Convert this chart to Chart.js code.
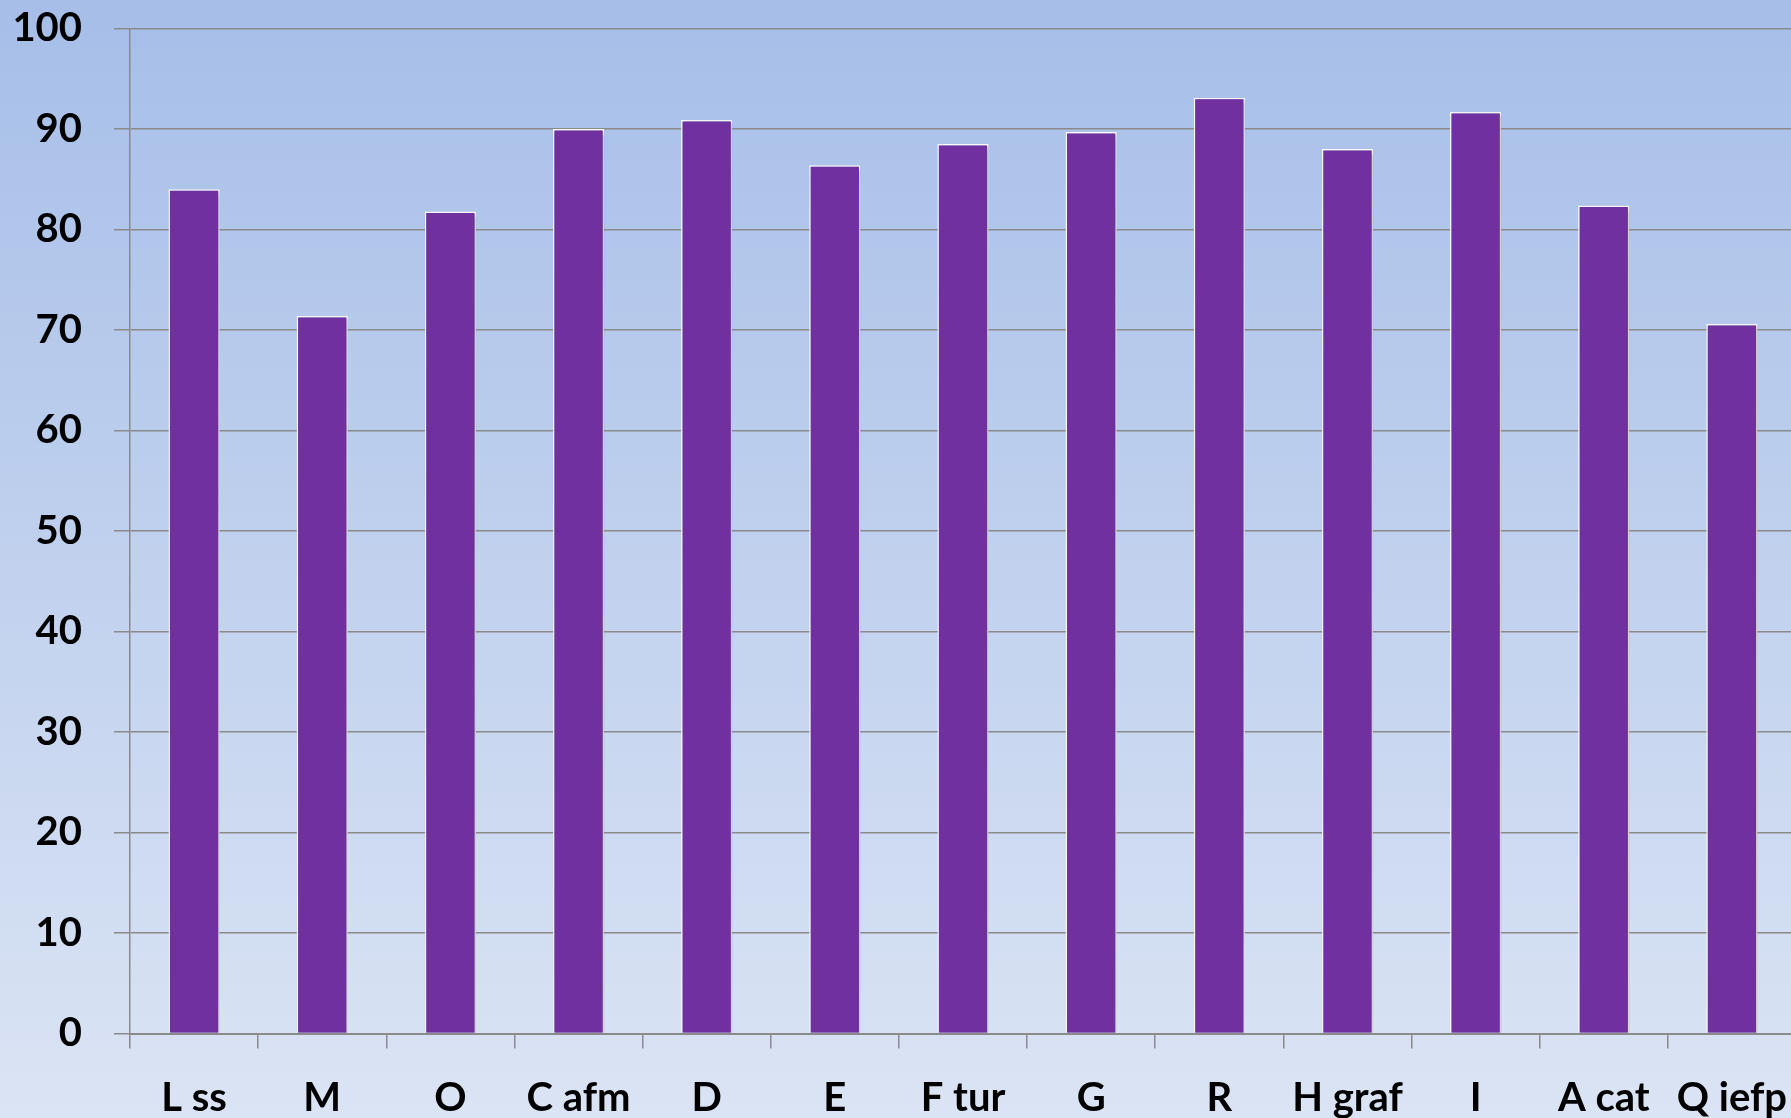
<!DOCTYPE html>
<html>
<head>
<meta charset="utf-8">
<script src="https://cdn.jsdelivr.net/npm/chart.js@4.4.0/dist/chart.umd.min.js"></script>
<style>
  html, body { margin: 0; padding: 0; overflow: hidden; background: #dae3f3; }
  #wrap { width: 1796px; height: 1118px; position: relative; }
</style>
</head>
<body>
<div id="wrap"><canvas id="canvas"></canvas></div>
<script>
var categories = ['L ss', 'M', 'O', 'C afm', 'D', 'E', 'F tur', 'G', 'R', 'H graf', 'I', 'A cat', 'Q iefp'];
var values = [84.0, 71.4, 81.8, 90.0, 90.9, 86.4, 88.5, 89.7, 93.1, 88.0, 91.7, 82.4, 70.6];
var yTicks = [0, 10, 20, 30, 40, 50, 60, 70, 80, 90, 100];

var backdrop = {
        id: 'backdrop',
        beforeDraw: function(chart) {
                var ctx = chart.ctx;
                var g = ctx.createLinearGradient(0, 0, 0, chart.height);
                g.addColorStop(0, '#a6bee8');
                g.addColorStop(1, '#dbe4f4');
                ctx.save();
                ctx.fillStyle = g;
                ctx.fillRect(0, 0, chart.width, chart.height);
                ctx.restore();
        },
        beforeDatasetsDraw: function(chart) {
                var ctx = chart.ctx;
                ctx.save();
                ctx.shadowColor = 'rgba(60, 60, 90, 0.35)';
                ctx.shadowBlur = 5;
                ctx.shadowOffsetX = 2;
                ctx.shadowOffsetY = 2;
        },
        afterDatasetsDraw: function(chart) {
                chart.ctx.restore();
        }
};

var config = {
        type: 'bar',
        data: {
                labels: categories,
                datasets: [{
                        label: 'valor',
                        data: values,
                        backgroundColor: '#7030a0',
                        borderColor: '#ffffff',
                        borderWidth: 1.5,
                        barPercentage: 0.8,
                        categoryPercentage: 0.5
                }]
        },
        plugins: [backdrop],
        options: {
                responsive: true,
                maintainAspectRatio: false,
                animation: false,
                layout: { padding: { top: 28.5, right: 0, left: 0, bottom: 0 } },
                plugins: {
                        legend: { display: false },
                        tooltip: { enabled: false }
                },
                scales: {
                        x: {
                                grid: {
                                        offset: true,
                                        drawOnChartArea: false,
                                        drawTicks: true,
                                        tickLength: 15,
                                        color: '#8a8a8a',
                                        lineWidth: 1.5
                                },
                                border: { display: true, color: '#8a8a8a', width: 2 },
                                ticks: {
                                        color: '#000000',
                                        font: { family: 'Lato', size: 40, weight: 'bold' },
                                        padding: 26,
                                        maxRotation: 0,
                                        autoSkip: false
                                },
                                afterFit: function(scale) {
                                        scale.height = 84.5;
                                        scale.paddingLeft = 0;
                                        scale.paddingRight = 0;
                                }
                        },
                        y: {
                                min: 0,
                                max: 100,
                                afterBuildTicks: function(scale) {
                                        scale.ticks = yTicks.map(function(v) { return { value: v }; });
                                },
                                grid: {
                                        color: '#8a8a8a',
                                        lineWidth: 1.5,
                                        drawTicks: true,
                                        tickLength: 16
                                },
                                border: { display: true, color: '#8a8a8a', width: 1.5 },
                                ticks: {
                                        color: '#000000',
                                        font: { family: 'Lato', size: 40, weight: 'bold' },
                                        padding: 32
                                },
                                afterFit: function(scale) {
                                        scale.width = 130;
                                        scale.paddingTop = 0;
                                        scale.paddingBottom = 0;
                                }
                        }
                }
        }
};

window.onload = function() {
        var ctx = document.getElementById('canvas').getContext('2d');
        window.myBar = new Chart(ctx, config);
};
</script>
</body>
</html>
